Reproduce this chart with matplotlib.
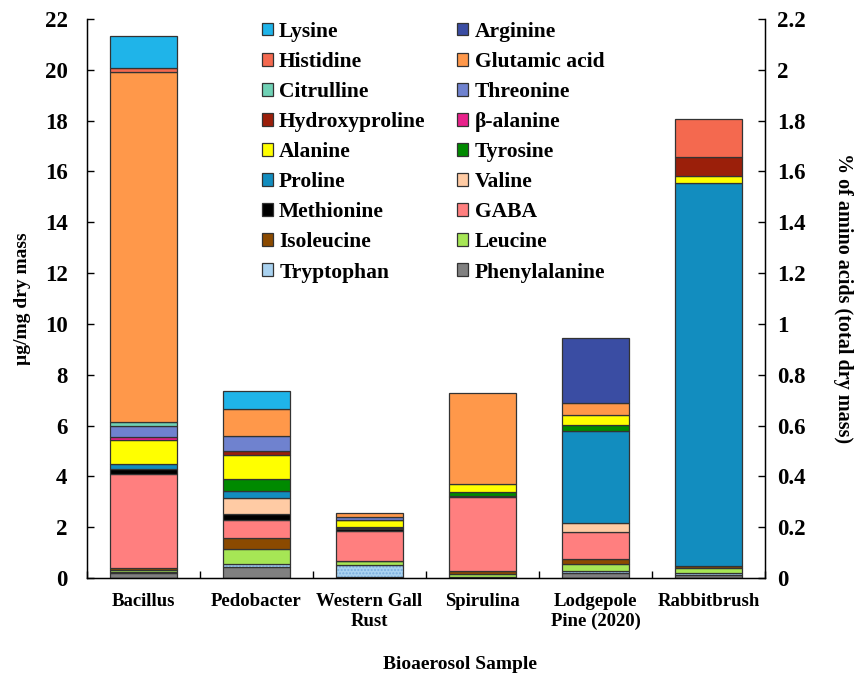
import numpy as np
import matplotlib.pyplot as plt
from matplotlib.patches import Patch
from matplotlib.ticker import FuncFormatter

plt.rcParams['font.family'] = ['Liberation Serif', 'DejaVu Serif']
plt.rcParams['font.weight'] = 'bold'
plt.rcParams['hatch.linewidth'] = 1.0

samples = ['Bacillus', 'Pedobacter', 'Western Gall\nRust', 'Spirulina',
           'Lodgepole\nPine (2020)', 'Rabbitbrush']

# stacked bottom -> top, values in ug/mg dry mass
amino = ['Phenylalanine', 'Tryptophan', 'Leucine', 'Isoleucine', 'GABA',
         'Methionine', 'Valine', 'Proline', 'Tyrosine', 'Alanine',
         'β-alanine', 'Hydroxyproline', 'Threonine', 'Citrulline',
         'Glutamic acid', 'Histidine', 'Arginine', 'Lysine']

phenylalanine = [0.20, 0.45, 0.05, 0.05, 0.20, 0.10]
tryptophan = [0.03, 0.10, 0.45, 0.00, 0.08, 0.08]
leucine = [0.10, 0.60, 0.15, 0.12, 0.28, 0.20]
isoleucine = [0.05, 0.43, 0.02, 0.12, 0.20, 0.10]
gaba = [3.72, 0.71, 1.17, 2.88, 1.05, 0.00]
methionine = [0.20, 0.24, 0.08, 0.05, 0.00, 0.00]
valine = [0.00, 0.63, 0.05, 0.00, 0.34, 0.00]
proline = [0.20, 0.26, 0.00, 0.00, 3.64, 15.05]
tyrosine = [0.00, 0.46, 0.05, 0.15, 0.24, 0.00]
alanine = [0.95, 0.98, 0.25, 0.33, 0.37, 0.29]
beta_alanine = [0.10, 0.00, 0.00, 0.00, 0.00, 0.00]
hydroxyproline = [0.00, 0.12, 0.03, 0.00, 0.00, 0.76]
threonine = [0.43, 0.60, 0.12, 0.00, 0.00, 0.00]
citrulline = [0.15, 0.00, 0.00, 0.00, 0.00, 0.00]
glutamic = [13.80, 1.08, 0.15, 3.58, 0.47, 0.00]
histidine = [0.15, 0.00, 0.00, 0.00, 0.00, 1.50]
arginine = [0.00, 0.00, 0.00, 0.00, 2.56, 0.00]
lysine = [1.27, 0.70, 0.00, 0.00, 0.00, 0.00]

values = [phenylalanine, tryptophan, leucine, isoleucine, gaba, methionine,
          valine, proline, tyrosine, alanine, beta_alanine, hydroxyproline,
          threonine, citrulline, glutamic, histidine, arginine, lysine]

colors = ['#808080', '#a9d2f0', '#a6e655', '#8b4a00', '#ff7f7f', '#000000',
          '#ffcba4', '#128dbf', '#008a00', '#ffff00', '#e8228b', '#9b1f0a',
          '#6f82cf', '#6fd1b5', '#ff984a', '#f4694f', '#3a4da3', '#1fb4e9']

edge = '#333333'

fig = plt.figure(figsize=(8.55, 6.78), dpi=100)
ax = fig.add_axes([0.1018, 0.1475, 0.7929, 0.8245])

x = np.arange(len(samples))
bottom = np.zeros(len(samples))
for name, vals, col in zip(amino, values, colors):
    vals = np.array(vals)
    if name == 'Tryptophan':
        bars = ax.bar(x, vals, 0.59, bottom=bottom, color=col,
                      edgecolor='#78aee0', linewidth=0, hatch='.....')
        bars2 = ax.bar(x, vals, 0.59, bottom=bottom, fill=False,
                       edgecolor=edge, linewidth=0.9)
        for p, v in zip(bars2, vals):
            if v == 0:
                p.set_visible(False)
    else:
        bars = ax.bar(x, vals, 0.59, bottom=bottom, color=col,
                      edgecolor=edge, linewidth=0.9)
    for p, v in zip(bars, vals):
        if v == 0:
            p.set_visible(False)
    bottom += vals

ax.set_xlim(-0.5, 5.5)
ax.set_ylim(0, 22)
ax.set_yticks(np.arange(0, 23, 2))
ax.tick_params(axis='y', direction='in', length=5, labelsize=16.5, width=1, pad=14)
ax.set_xticks(np.arange(-0.5, 6, 1))
ax.set_xticklabels([])
ax.set_xticks(x, minor=True)
ax.set_xticklabels(samples, minor=True, fontsize=13.5, fontweight='bold')
ax.tick_params(axis='x', which='major', direction='in', length=5, width=1)
ax.tick_params(axis='x', which='minor', length=0, pad=11)
ax.spines['top'].set_visible(False)
for s in ['left', 'bottom', 'right']:
    ax.spines[s].set_linewidth(1)
ax.set_ylabel('µg/mg dry mass', fontsize=14, fontweight='bold', labelpad=10)
ax.set_xlabel('Bioaerosol Sample', fontsize=14, fontweight='bold')
ax.xaxis.set_label_coords(0.55, -0.14)

ax2 = ax.twinx()
ax2.set_ylim(0, 2.2)
ax2.set_yticks(np.arange(0, 2.21, 0.2))
ax2.yaxis.set_major_formatter(FuncFormatter(lambda v, p: '%g' % round(v, 1)))
ax2.tick_params(axis='y', direction='in', length=5, labelsize=16.5, width=1, pad=9)
ax2.spines['top'].set_visible(False)
ax2.set_ylabel('% of amino acids (total dry mass)', fontsize=14.5,
               fontweight='bold', rotation=-90, labelpad=34)

# legend: row-wise order in picture, matplotlib fills column-wise
col1 = ['Lysine', 'Histidine', 'Citrulline', 'Hydroxyproline', 'Alanine',
        'Proline', 'Methionine', 'Isoleucine', 'Tryptophan']
col2 = ['Arginine', 'Glutamic acid', 'Threonine', 'β-alanine', 'Tyrosine',
        'Valine', 'GABA', 'Leucine', 'Phenylalanine']
handles = []
for name in col1 + col2:
    c = colors[amino.index(name)]
    handles.append(Patch(facecolor=c, edgecolor=edge, linewidth=0.9, label=name))
ax.legend(handles=handles, ncol=2, loc='upper left',
          bbox_to_anchor=(0.251, 1.003), frameon=False, borderpad=0.2,
          borderaxespad=0, labelspacing=0.47,
          handlelength=0.52, handleheight=0.55, handletextpad=0.3,
          columnspacing=1.45, prop={'weight': 'bold', 'size': 15.5})

fig.savefig('out.png', dpi=100)
